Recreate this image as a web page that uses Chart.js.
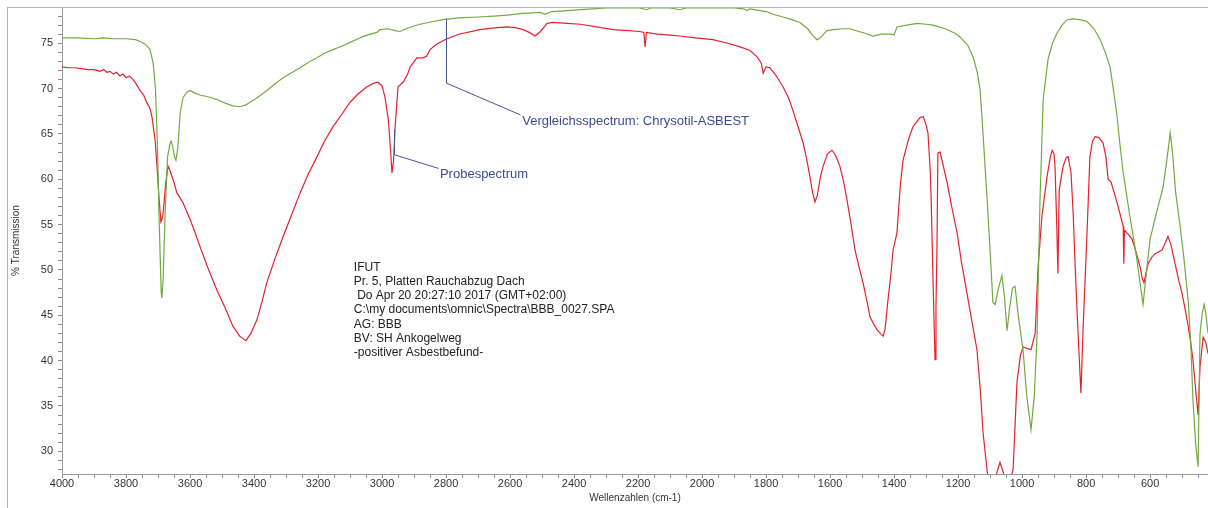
<!DOCTYPE html>
<html>
<head>
<meta charset="utf-8">
<script src="https://cdn.jsdelivr.net/npm/chart.js@4/dist/chart.umd.min.js"></script>
<style>
  html, body { margin: 0; padding: 0; background: #ffffff; overflow: hidden; }
  #wrap { position: relative; width: 1208px; height: 508px; }
  #frame { position: absolute; left: 7px; top: 7px; width: 1220px; height: 520px;
           border-left: 1px solid #b4b4b4; border-top: 1px solid #b4b4b4; pointer-events: none; }
  canvas { position: absolute; left: 0; top: 0; }
</style>
</head>
<body>
<div id="wrap">
  <canvas id="c" width="1208" height="508"></canvas>
  <div id="frame"></div>
</div>
<script>
// ---------- DATA ----------
const xMin = 419, xMax = 4000;
const yMin = 27.5, yMax = 79.0;
const xMajorStep = 200, xMinorStep = 50;
const yMajorStep = 5, yMinorStep = 1;

// Vergleichsspectrum: Chrysotil-ASBEST (green)
const refWn = [4000,3950,3900,3870,3840,3800,3770,3756,3740,3725,3715,3708,3702,3696,3690,3688,3684,3678,3670,3662,3659,3654,3648,3644,3638,3631,3622,3610,3600,3585,3569,3545,3516,3490,3466,3444,3425,3413,3390,3360,3335,3309,3280,3256,3230,3203,3180,3153,3125,3100,3075,3047,3016,3006,2980,2960,2944,2925,2900,2881,2840,2809,2760,2700,2650,2609,2560,2506,2490,2470,2420,2380,2341,2300,2250,2195,2172,2160,2100,2069,2050,1950,1900,1870,1859,1850,1800,1778,1747,1720,1694,1670,1655,1641,1630,1620,1609,1590,1560,1538,1510,1490,1466,1440,1410,1400,1391,1360,1328,1300,1278,1240,1210,1194,1170,1153,1140,1131,1122,1115,1109,1100,1091,1084,1075,1063,1055,1047,1040,1030,1022,1012,997,985,972,962,953,944,934,919,905,891,875,859,841,820,797,775,756,740,725,713,703,694,684,673,663,652,641,631,622,612,600,580,559,548,537,530,520,506,495,481,473,466,458,450,444,437,431,425,419];
const refT  = [75.6,75.6,75.5,75.6,75.5,75.5,75.4,75.2,74.9,74.3,72.8,70,64,55,47.5,46.9,49,56,62.5,64.0,64.2,63.6,62.4,62.1,63.5,67.2,69.0,69.6,69.8,69.5,69.3,69.1,68.8,68.4,68.1,68.0,68.2,68.5,69.0,69.8,70.5,71.2,71.8,72.3,72.9,73.4,73.9,74.3,74.7,75.1,75.5,75.9,76.2,76.5,76.6,76.4,76.3,76.6,76.9,77.1,77.4,77.6,77.8,77.9,78.0,78.1,78.3,78.4,78.2,78.5,78.6,78.7,78.8,78.9,78.9,78.9,78.7,78.9,78.9,78.7,78.9,78.9,78.9,78.8,78.6,78.8,78.5,78.2,77.9,77.6,77.3,76.6,75.9,75.4,75.6,76.0,76.4,76.5,76.6,76.6,76.3,76.1,75.8,76.0,76.0,75.9,76.8,77.0,77.2,77.1,77.0,76.6,76.1,75.7,74.8,73.5,71.8,69.8,65.1,61,57.7,52.2,46.4,46.2,47.8,49.4,47,43.3,45.5,48.0,48.2,45,41.2,36,32.4,36,43.0,57.7,68.8,73.2,75,76.1,77.0,77.6,77.7,77.6,77.4,76.6,75.4,74.0,72.4,69.5,66.9,63.8,60.7,58.2,55.9,53.6,51.1,48.5,46.2,49.5,53.4,56.3,59.2,62.0,65.1,63.0,58.5,54.8,51.5,46.7,42,35.7,31,28.3,43.0,45.2,46.2,45.0,43.0];

// Probespectrum (red)
const sampleWn = [4000,3980,3960,3940,3920,3900,3881,3870,3860,3850,3840,3830,3819,3810,3800,3790,3778,3770,3756,3745,3734,3725,3719,3709,3703,3697,3691,3687,3684,3676,3669,3663,3656,3648,3641,3632,3622,3600,3584,3569,3545,3516,3490,3466,3445,3425,3410,3391,3375,3360,3335,3309,3280,3256,3230,3203,3180,3153,3125,3100,3075,3047,3025,3013,3000,2991,2980,2972,2969,2964,2959,2950,2934,2920,2912,2891,2872,2860,2850,2830,2797,2760,2694,2650,2609,2580,2559,2540,2522,2505,2484,2466,2420,2381,2330,2278,2230,2194,2182,2178,2174,2140,2100,2069,2020,1966,1920,1881,1850,1828,1815,1809,1800,1788,1770,1747,1730,1716,1700,1684,1673,1663,1655,1647,1640,1630,1622,1608,1594,1582,1569,1558,1547,1535,1522,1510,1497,1485,1475,1463,1453,1440,1434,1428,1419,1410,1403,1391,1380,1372,1355,1341,1319,1309,1300,1294,1287,1284,1278,1272,1269,1266,1263,1256,1245,1234,1220,1203,1190,1172,1155,1141,1130,1122,1109,1095,1080,1069,1058,1045,1031,1028,1016,1005,997,988,980,972,959,950,938,922,912,906,900,897,891,888,884,872,862,856,847,840,834,825,816,809,797,788,780,772,760,747,738,731,722,712,703,694,684,682,680,670,656,644,631,624,619,612,606,595,584,563,555,544,535,522,510,500,490,481,473,466,458,450,444,434,426,419];
const sampleT  = [72.4,72.3,72.3,72.2,72.1,72.1,71.9,72.1,71.8,71.9,71.6,71.8,71.4,71.6,71.2,71.4,71.0,70.6,69.8,69.3,68.4,67.8,66.9,64.3,61.4,58.0,55.3,55.6,56.3,59.5,61.5,61.0,60.3,59.4,58.5,58.0,57.4,55.6,54.1,52.6,50.3,47.8,45.8,43.8,42.7,42.2,43.0,44.5,46.5,48.6,51.2,53.7,56.3,58.5,60.6,62.5,64.2,65.8,67.2,68.5,69.4,70.2,70.6,70.7,70.3,69.1,66.5,62.5,60.7,62,65.8,70.2,70.7,71.6,72.4,73.4,73.4,73.6,74.3,74.9,75.5,76.0,76.5,76.7,76.8,76.7,76.5,76.2,75.8,76.3,77.2,77.3,77.2,77.1,76.8,76.5,76.4,76.3,76.2,74.6,76.2,76.0,75.9,75.8,75.6,75.4,75.0,74.6,74.2,73.5,72.8,71.7,72.4,72.3,71.5,70.2,69.0,67.6,65.8,64.0,62.2,60.3,58.6,57.5,58.2,60.3,61.4,62.8,63.2,62.6,61.4,59.8,57.7,55.2,52.2,50.4,48.6,46.6,44.8,44.0,43.4,42.9,42.7,43.5,46.7,49.5,52.2,54.1,59.5,62.1,64.4,65.8,66.8,66.9,66.0,65.1,61,57.7,48.6,40.1,46,52.2,62.9,63.0,61.3,59.6,57.0,54.1,51.0,47.4,44.0,41.2,36.5,32.1,27.8,25.0,27.5,28.8,27.6,25.0,27.6,28.0,37.6,40.6,41.5,41.4,41.3,41.2,43.0,50.3,55.9,60.3,62.4,63.2,62.8,61.4,54.1,49.6,58.8,61.4,62.4,62.5,60.7,56.0,50.3,43.0,36.4,43.8,54.1,62.5,64.2,64.7,64.6,64.0,62.5,60.0,59.7,58.5,57.4,56.2,54.8,50.7,54.4,54.0,53.4,52.0,50.3,49.0,48.6,49.8,50.7,51.4,51.8,52.2,52.8,53.7,52.8,50.7,48.8,47.4,45.6,43.8,42.0,40.1,37.0,34.0,39.3,42.6,42.0,40.8];

// Callouts (data coordinates: [wavenumber, %T])
const refCalloutPath = [[2800, 77.7], [2800, 70.6], [2568, 67.1]];
const refCalloutAt = [2562, 66.4];
const refCalloutText = "Vergleichsspectrum: Chrysotil-ASBEST";
const sampleCalloutPath = [[2962, 65.5], [2962, 62.7], [2826, 61.2]];
const sampleCalloutAt = [2819, 60.5];
const sampleCalloutText = "Probespectrum";

// Info text block
const infoAt = [3088, 50.3];
const infoLines = [
  "IFUT",
  "Pr. 5, Platten Rauchabzug Dach",
  " Do Apr 20 20:27:10 2017 (GMT+02:00)",
  "C:\\my documents\\omnic\\Spectra\\BBB_0027.SPA",
  "AG: BBB",
  "BV: SH Ankogelweg",
  "-positiver Asbestbefund-"
];

const xTitle = "Wellenzahlen (cm-1)";
const yTitle = "% Transmission";

// ---------- CHART ----------
const FONT = "'Liberation Sans', Arial, sans-serif";
const toPts = (xs, ys) => xs.map((x, i) => ({ x: x, y: ys[i] }));

const annotations = {
  id: 'annotations',
  afterDatasetsDraw(chart) {
    const { ctx } = chart;
    const xs = chart.scales.x, ys = chart.scales.y;
    const px = v => xs.getPixelForValue(v), py = v => ys.getPixelForValue(v);
    ctx.save();
    ctx.strokeStyle = '#46558f';
    ctx.lineWidth = 1;
    [refCalloutPath, sampleCalloutPath].forEach(path => {
      ctx.beginPath();
      path.forEach((p, i) => {
        const X = Math.round(px(p[0])) + 0.5, Y = py(p[1]);
        if (i === 0) ctx.moveTo(X, Y); else ctx.lineTo(X, Y);
      });
      ctx.stroke();
    });
    ctx.fillStyle = '#3a4b93';
    ctx.font = '13px ' + FONT;
    ctx.textBaseline = 'middle';
    ctx.textAlign = 'left';
    ctx.fillText(refCalloutText, px(refCalloutAt[0]), py(refCalloutAt[1]));
    ctx.fillText(sampleCalloutText, px(sampleCalloutAt[0]), py(sampleCalloutAt[1]));
    ctx.fillStyle = '#222222';
    ctx.font = '12px ' + FONT;
    const x0 = px(infoAt[0]), y0 = py(infoAt[1]);
    infoLines.forEach((t, i) => ctx.fillText(t, x0, y0 + i * 14.3));
    ctx.restore();
  }
};

function stepTicks(min, max, step) {
  const out = [];
  for (let v = Math.ceil(min / step) * step; v <= max + 1e-9; v += step) out.push({ value: Math.round(v * 1000) / 1000 });
  return out;
}

new Chart(document.getElementById('c'), {
  type: 'line',
  data: {
    datasets: [
      { label: 'Vergleichsspectrum', data: toPts(refWn, refT), borderColor: '#72aa42', borderWidth: 1.2,
        pointRadius: 0, tension: 0, fill: false },
      { label: 'Probespectrum', data: toPts(sampleWn, sampleT), borderColor: '#e3222d', borderWidth: 1.2,
        pointRadius: 0, tension: 0, fill: false }
    ]
  },
  options: {
    responsive: false,
    animation: false,
    layout: { padding: { top: 7, right: 0, bottom: 4, left: 0 } },
    plugins: { legend: { display: false }, tooltip: { enabled: false } },
    scales: {
      x: {
        type: 'linear', reverse: true, min: xMin, max: xMax,
        afterBuildTicks: s => { s.ticks = stepTicks(xMin, xMax, xMinorStep); },
        afterFit: s => { s.height = 30; s.paddingLeft = 0; s.paddingRight = 0; },
        ticks: {
          autoSkip: false, maxRotation: 0, padding: -1,
          color: '#333', font: { family: FONT, size: 11 },
          callback: v => (v % xMajorStep === 0 ? String(v) : '')
        },
        grid: { drawOnChartArea: false, drawTicks: true, tickLength: 4, color: '#8a8a8a' },
        border: { display: true, color: '#9a9a9a', width: 1 },
        title: { display: true, text: xTitle, color: '#333', font: { family: FONT, size: 10 }, padding: { top: 0, bottom: 0 } }
      },
      y: {
        type: 'linear', min: yMin, max: yMax,
        afterBuildTicks: s => { s.ticks = stepTicks(yMin, yMax, yMinorStep); },
        afterFit: s => { s.width = 62; s.paddingTop = 0; s.paddingBottom = 0; },
        ticks: {
          autoSkip: false, padding: 5,
          color: '#333', font: { family: FONT, size: 11 },
          callback: v => (v % yMajorStep === 0 ? String(v) : '')
        },
        grid: { drawOnChartArea: false, drawTicks: true, tickLength: 4, color: '#8a8a8a' },
        border: { display: true, color: '#9a9a9a', width: 1 },
        title: { display: true, text: yTitle, color: '#333', font: { family: FONT, size: 10 }, padding: { top: 10, bottom: 0 } }
      }
    }
  },
  plugins: [annotations]
});
</script>
</body>
</html>
